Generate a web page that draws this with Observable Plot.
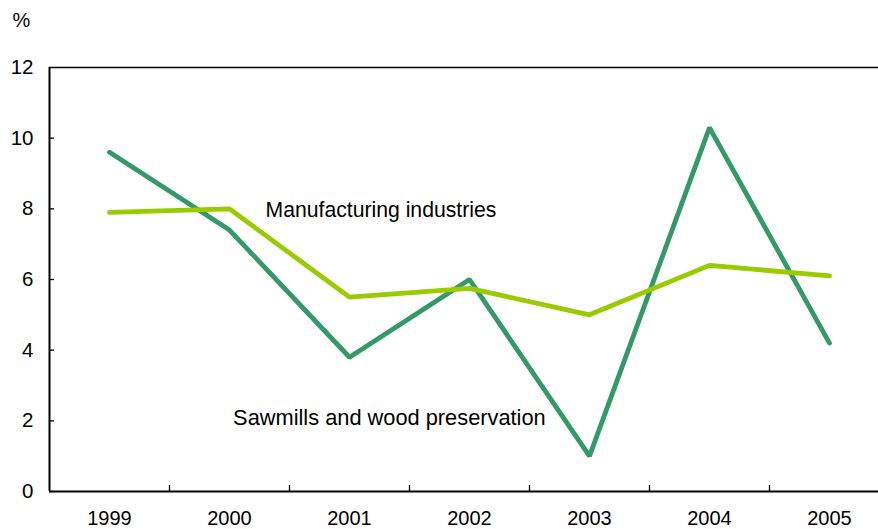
<!DOCTYPE html>
<html>
<head>
<meta charset="utf-8">
<script src="https://cdn.jsdelivr.net/npm/d3@7"></script>
<script src="https://cdn.jsdelivr.net/npm/@observablehq/plot@0.6"></script>
<style>
  html, body { margin: 0; padding: 0; background: #fff; }
  svg { display: block; }
</style>
</head>
<body>
<div id="chart"></div>
<script>
const years = [1999, 2000, 2001, 2002, 2003, 2004, 2005];
const sawmills = [9.6, 7.4, 3.8, 6.0, 1.0, 10.3, 4.2];
const manufacturing = [7.9, 8.0, 5.5, 5.75, 5.0, 6.4, 6.1];
const yTicks = [0, 2, 4, 6, 8, 10, 12];
const xBoundaries = [1999.5, 2000.5, 2001.5, 2002.5, 2003.5, 2004.5];
const seriesNames = ["Sawmills and wood preservation", "Manufacturing industries"];
const labelX = [2000.03, 2000.3];
const labelY = [2.07, 7.95];

const sawData = years.map((y, i) => ({year: y, value: sawmills[i]}));
const manData = years.map((y, i) => ({year: y, value: manufacturing[i]}));
const labels = seriesNames.map((n, i) => ({name: n, x: labelX[i], y: labelY[i]}));

const font = "'Liberation Sans', Arial, Helvetica, sans-serif";

const chart = Plot.plot({
  width: 878,
  height: 529,
  marginTop: 67,
  marginLeft: 49,
  marginRight: 0,
  marginBottom: 38,
  style: {fontFamily: font, fontSize: "20px", color: "#000", background: "#fff"},
  x: {type: "linear", domain: [1998.5, 2005.5], range: [49, 889]},
  y: {domain: [0, 12]},
  marks: [
    Plot.ruleY([12], {stroke: "#000", strokeWidth: 1.5}),
    Plot.ruleX([1998.5], {stroke: "#000", strokeWidth: 2}),
    Plot.ruleY([0], {stroke: "#000", strokeWidth: 2}),
    Plot.axisY(yTicks.slice(0, -1), {tickSize: -5, tickFormat: () => "", stroke: "#000", strokeWidth: 1.3, label: null}),
    Plot.axisY(yTicks, {tickSize: 0, tickPadding: 16, fontSize: 20.5, label: null, fill: "#000"}),
    Plot.axisX(xBoundaries, {tickSize: -6, tickFormat: () => "", stroke: "#000", strokeWidth: 1.3, label: null}),
    Plot.axisX(years, {tickSize: 0, tickPadding: 19, tickFormat: d => String(d), fontSize: 20, label: null, fill: "#000"}),
    Plot.text(["%"], {frameAnchor: "top-left", textAnchor: "start", lineAnchor: "top", dx: -37, dy: -55, fontSize: 20, fill: "#000"}),
    Plot.line(sawData, {x: "year", y: "value", stroke: "#339966", strokeWidth: 4.8, strokeLinecap: "round", strokeLinejoin: "miter"}),
    Plot.line(manData, {x: "year", y: "value", stroke: "#99cc00", strokeWidth: 4.8, strokeLinecap: "round", strokeLinejoin: "miter"}),
    Plot.text(labels.slice(0, 1), {x: "x", y: "y", text: "name", textAnchor: "start", fontSize: 21.8, fill: "#000"}),
    Plot.text(labels.slice(1), {x: "x", y: "y", text: "name", textAnchor: "start", fontSize: 21.2, fill: "#000"})
  ]
});
document.getElementById("chart").appendChild(chart);
</script>
</body>
</html>
